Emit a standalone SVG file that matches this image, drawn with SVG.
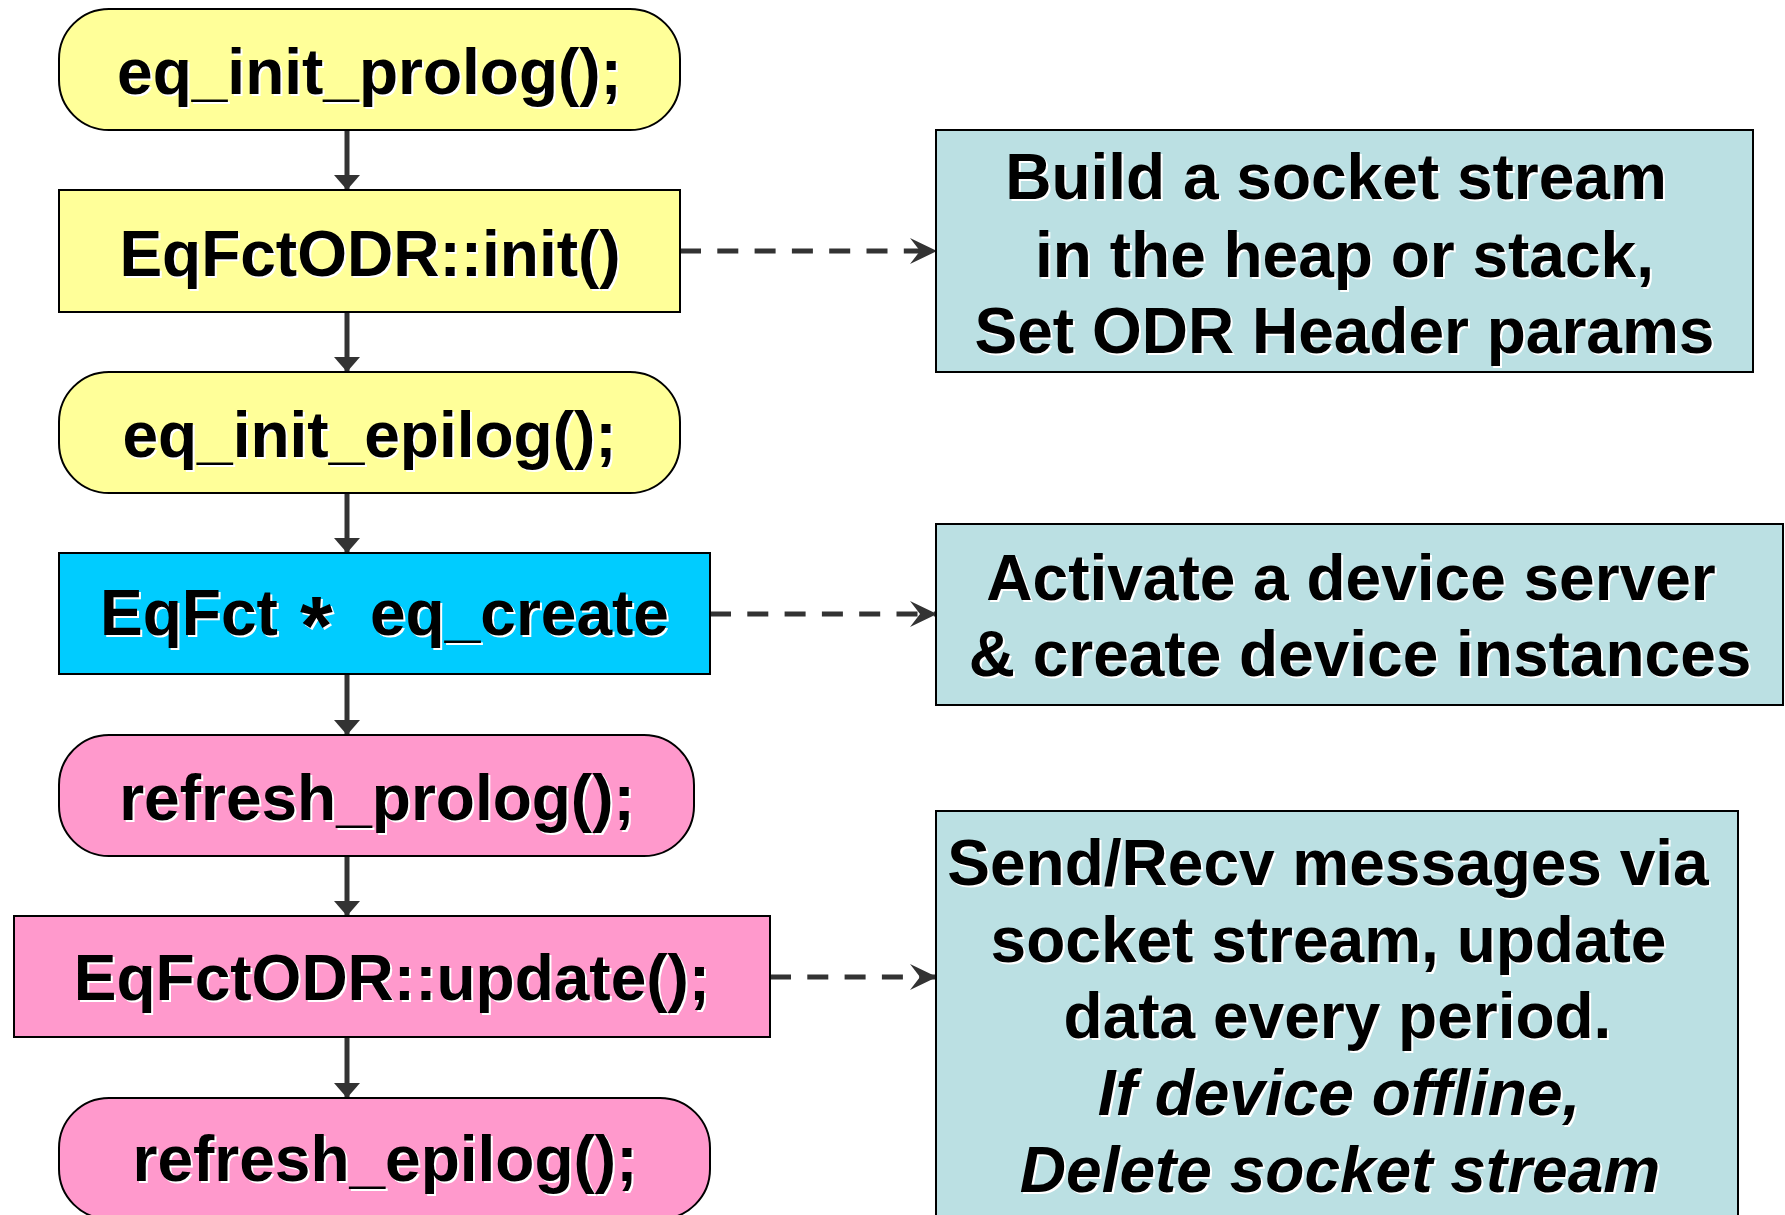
<svg xmlns="http://www.w3.org/2000/svg" width="1785" height="1215" viewBox="0 0 1785 1215">
<style>
.yel{fill:#FFFF99;stroke:#000;stroke-width:2}
.blu{fill:#00CCFF;stroke:#000;stroke-width:2}
.pnk{fill:#FF99CC;stroke:#000;stroke-width:2}
.tea{fill:#BBE0E3;stroke:#000;stroke-width:2}
text{font-family:"Liberation Sans",Arial,Helvetica,sans-serif;font-weight:bold;font-size:64px;text-anchor:middle;white-space:pre}
text.st{text-anchor:start}
.ast{font-size:84px}
.sh{fill:#fff}
.tx{fill:#000}
.it{font-style:italic}
.flow{stroke:#333;stroke-width:5;fill:none}
.dash{stroke:#333;stroke-width:5;fill:none;stroke-dasharray:21 16.3}
</style>
<defs>
<marker id="tri" markerUnits="userSpaceOnUse" markerWidth="16" markerHeight="26" refX="15" refY="13" orient="auto">
<path d="M0,0 L15,13 L0,26 Z" fill="#333"/>
</marker>
<marker id="barb" markerUnits="userSpaceOnUse" markerWidth="28" markerHeight="26" refX="27" refY="13" orient="auto">
<path d="M0,0 L27,13 L0,26 L10,13 Z" fill="#333"/>
</marker>
</defs>

<g id="connectors">
<line class="flow" x1="347" y1="130" x2="347" y2="190" marker-end="url(#tri)"/>
<line class="flow" x1="347" y1="312" x2="347" y2="372" marker-end="url(#tri)"/>
<line class="flow" x1="347" y1="493" x2="347" y2="553" marker-end="url(#tri)"/>
<line class="flow" x1="347" y1="674" x2="347" y2="735" marker-end="url(#tri)"/>
<line class="flow" x1="347" y1="856" x2="347" y2="916" marker-end="url(#tri)"/>
<line class="flow" x1="347" y1="1037" x2="347" y2="1098" marker-end="url(#tri)"/>
<line class="dash" x1="680" y1="251" x2="937" y2="251" marker-end="url(#barb)"/>
<line class="dash" x1="710" y1="614" x2="937" y2="614" marker-end="url(#barb)"/>
<line class="dash" x1="770" y1="977" x2="937" y2="977" marker-end="url(#barb)"/>
</g>

<g id="eq_init_prolog">
<rect class="yel" x="59" y="9" width="621" height="121" rx="50" ry="50"/>
<text class="sh" x="371.5" y="96">eq_init_prolog();</text>
<text class="tx" x="369.5" y="94">eq_init_prolog();</text>
</g>

<g id="init">
<rect class="yel" x="59" y="190" width="621" height="122"/>
<text class="sh" x="372" y="277.5">EqFctODR::init()</text>
<text class="tx" x="370" y="275.5">EqFctODR::init()</text>
</g>

<g id="eq_init_epilog">
<rect class="yel" x="59" y="372" width="621" height="121" rx="50" ry="50"/>
<text class="sh" x="371.5" y="459">eq_init_epilog();</text>
<text class="tx" x="369.5" y="457">eq_init_epilog();</text>
</g>

<g id="eq_create">
<rect class="blu" x="59" y="553" width="651" height="121"/>
<text class="sh st" x="102" y="637">EqFct<tspan class="ast" x="302" dy="20">*</tspan><tspan x="372" dy="-20">eq_create</tspan></text>
<text class="tx st" x="100" y="635">EqFct<tspan class="ast" x="300" dy="20">*</tspan><tspan x="370" dy="-20">eq_create</tspan></text>
</g>

<g id="refresh_prolog">
<rect class="pnk" x="59" y="735" width="635" height="121" rx="50" ry="50"/>
<text class="sh" x="379" y="822">refresh_prolog();</text>
<text class="tx" x="377" y="820">refresh_prolog();</text>
</g>

<g id="update">
<rect class="pnk" x="14" y="916" width="756" height="121"/>
<text class="sh" x="394" y="1002">EqFctODR::update();</text>
<text class="tx" x="392" y="1000">EqFctODR::update();</text>
</g>

<g id="refresh_epilog">
<rect class="pnk" x="59" y="1098" width="651" height="121" rx="50" ry="50"/>
<text class="sh" x="387" y="1183">refresh_epilog();</text>
<text class="tx" x="385" y="1181">refresh_epilog();</text>
</g>

<g id="note_init">
<rect class="tea" x="936" y="130" width="817" height="242"/>
<text class="sh" x="1338" y="201">Build a socket stream</text>
<text class="tx" x="1336" y="199">Build a socket stream</text>
<text class="sh" x="1346.5" y="279">in the heap or stack,</text>
<text class="tx" x="1344.5" y="277">in the heap or stack,</text>
<text class="sh" x="1346.5" y="355">Set ODR Header params</text>
<text class="tx" x="1344.5" y="353">Set ODR Header params</text>
</g>

<g id="note_create">
<rect class="tea" x="936" y="524" width="847" height="181"/>
<text class="sh" x="1353" y="602">Activate a device server</text>
<text class="tx" x="1351" y="600">Activate a device server</text>
<text class="sh" x="1362" y="678">&amp; create device instances</text>
<text class="tx" x="1360" y="676">&amp; create device instances</text>
</g>

<g id="note_update">
<rect class="tea" x="936" y="811" width="802" height="420"/>
<text class="sh" x="1330" y="887">Send/Recv messages via</text>
<text class="tx" x="1328" y="885">Send/Recv messages via</text>
<text class="sh" x="1330.5" y="964">socket stream, update</text>
<text class="tx" x="1328.5" y="962">socket stream, update</text>
<text class="sh" x="1339.5" y="1040">data every period.</text>
<text class="tx" x="1337.5" y="1038">data every period.</text>
<text class="sh it" x="1341" y="1117">If device offline,</text>
<text class="tx it" x="1339" y="1115">If device offline,</text>
<text class="sh it" x="1342" y="1194">Delete socket stream</text>
<text class="tx it" x="1340" y="1192">Delete socket stream</text>
</g>
</svg>
